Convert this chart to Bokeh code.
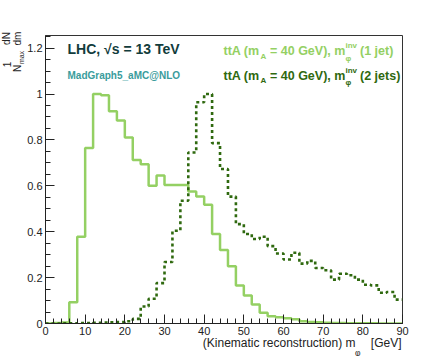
from bokeh.plotting import figure
from bokeh.models import Range1d, FixedTicker, NumeralTickFormatter, Label, Arrow
from bokeh.embed import file_html
from bokeh.resources import INLINE

# ---------------- data ----------------
bin_edges = [2 * i for i in range(46)]  # 0..90 GeV, 2 GeV bins

one_jet = [0.0, 0.002, 0.004, 0.093, 0.378, 0.765, 1.0, 0.995, 0.925, 0.885,
           0.81, 0.713, 0.694, 0.60, 0.645, 0.604, 0.604, 0.604, 0.575, 0.553,
           0.518, 0.39, 0.32, 0.25, 0.166, 0.122, 0.083, 0.047, 0.032, 0.027,
           0.023, 0.018, 0.01, 0.007, 0.005, 0.003, 0.002, 0.002, 0.001, 0.001,
           0.001, 0.001, 0.0005, 0.0005, 0.0005]

two_jets = [0.0, 0.0, 0.001, 0.001, 0.002, 0.002, 0.003, 0.004, 0.005, 0.006,
            0.01, 0.02, 0.074, 0.108, 0.176, 0.268, 0.404, 0.535, 0.745, 0.964,
            1.0, 0.786, 0.673, 0.553, 0.433, 0.39, 0.368, 0.378, 0.337, 0.305,
            0.279, 0.308, 0.261, 0.273, 0.242, 0.232, 0.191, 0.217, 0.21, 0.191,
            0.169, 0.166, 0.134, 0.137, 0.104]

x_ticks = [0, 10, 20, 30, 40, 50, 60, 70, 80, 90]
y_ticks = [0, 0.2, 0.4, 0.6, 0.8, 1.0, 1.2]

LIGHT = "#94d063"
DARK = "#2f690f"
FONT = "Liberation Sans"
INK = "#222222"

# frame in canvas pixel coords
FL, FR, FT, FB = 45.0, 402.0, 35.0, 323.0
W, H = 440, 356

p = figure(width=W, height=H, output_backend="svg", toolbar_location=None,
           x_range=Range1d(0, 90), y_range=Range1d(0, 1.255),
           min_border_left=int(FL), min_border_right=int(W - FR),
           min_border_top=int(FT), min_border_bottom=int(H - FB))
p.background_fill_color = "white"
p.border_fill_color = "white"
p.outline_line_color = "#333333"
p.outline_line_width = 1
p.xgrid.visible = False
p.ygrid.visible = False

def X(px):
    return (px - FL) / (FR - FL) * 90.0
def Y(py):
    return (FB - py) / (FB - FT) * 1.255

# histograms
p.step(x=bin_edges, y=one_jet + [one_jet[-1]], mode="after",
       line_color=LIGHT, line_width=2.5)
p.step(x=bin_edges, y=two_jets + [two_jets[-1]], mode="after",
       line_color=DARK, line_width=2.6, line_dash="3 3")

# axes
for ax in (p.xaxis[0], p.yaxis[0]):
    ax.major_tick_in = 9
    ax.major_tick_out = 0
    ax.minor_tick_in = 5
    ax.minor_tick_out = 0
    ax.axis_line_color = INK
    ax.major_tick_line_color = INK
    ax.minor_tick_line_color = INK
    ax.major_label_text_font = FONT
    ax.major_label_text_font_size = "11px"
    ax.major_label_text_color = INK
    ax.major_label_standoff = 3

p.xaxis.ticker = FixedTicker(ticks=x_ticks, minor_ticks=[2 * i for i in range(46)])
p.yaxis.ticker = FixedTicker(ticks=y_ticks, minor_ticks=[0.05 * i for i in range(26)])
p.yaxis.formatter = NumeralTickFormatter(format="0.[0]")

def lab(text, px, py, size, color=INK, bold=False, align="left", angle=0,
        place=None):
    l = Label(x=X(px), y=Y(py), text=text, text_font=FONT,
              text_font_size=f"{size}px", text_color=color,
              text_font_style="bold" if bold else "normal",
              text_align=align, text_baseline="middle",
              angle=angle, angle_units="deg")
    if place:
        p.add_layout(l, place)
    else:
        p.add_layout(l)

# titles inside the frame
lab("LHC, \u221as = 13 TeV", 67, 48, 14, "#123c3c", True)
lab("MadGraph5_aMC@NLO", 67, 75, 10, "#3a9c9c", True)

# legend lines
for py, color, tail in ((50.5, LIGHT, "(1 jet)"), (75, DARK, "(2 jets)")):
    lab("ttA (m", 223, py, 12.5, color, True)
    lab("A", 260, py + 5, 8, color, True)
    lab("= 40 GeV), m", 269.5, py, 12.5, color, True)
    lab("inv", 345, py - 5.5, 8, color, True)
    lab("\u03c6", 345, py + 7, 8, color, True)
    lab(tail, 359.5, py, 12.5, color, True)

# texts outside the frame: put in side panels (not clipped); spread over
# panels so each side panel stays within its border size
lab("(Kinematic reconstruction) m", 355, 342, 12, INK, False, "right", place="below")
lab("\u03c6", 354.5, 352, 8.5, INK, False, "left", place="above")
lab("[GeV]", 401, 342, 12, INK, False, "right", place="above")

lab("dN", 6, 38, 10, INK, False, "center", 90, place="left")
lab("1", 6, 64, 10, INK, False, "center", 90, place="left")
lab("dm", 17, 38, 10, INK, False, "center", 90, place="right")
lab("N", 17, 68, 10, INK, False, "center", 90, place="right")
lab("max", 20.5, 57, 7, INK, False, "center", 90, place="right")
for y0, y1 in ((32, 44.5), (51, 77)):
    p.add_layout(Arrow(start=None, end=None, x_start=X(11.5), y_start=Y(y0),
                       x_end=X(11.5), y_end=Y(y1), line_color=INK,
                       line_width=1), "above")

open("out.html", "w").write(file_html(p, INLINE))
